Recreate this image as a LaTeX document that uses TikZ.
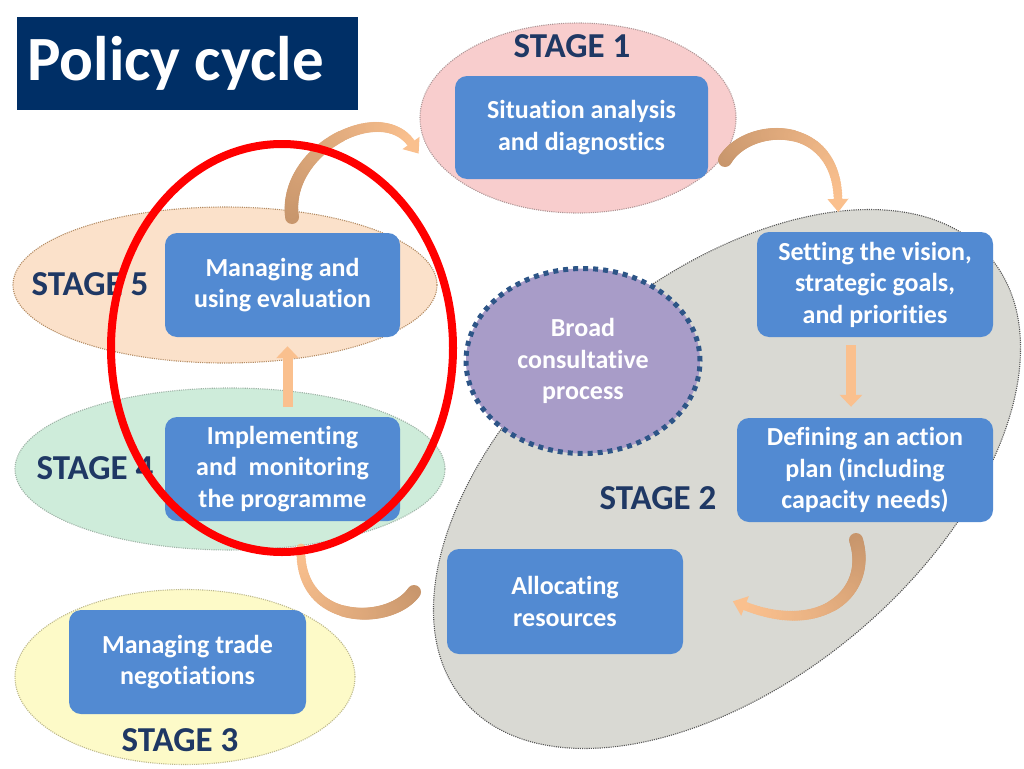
\documentclass[tikz,border=0pt]{standalone}
\usepackage{fontspec}
\setmainfont{Carlito}[Ligatures={CommonOff,RareOff}]
\usetikzlibrary{shapes.geometric,arrows.meta,calc}
\definecolor{titlebg}{RGB}{0,47,102}
\definecolor{stagecol}{RGB}{31,56,100}
\definecolor{boxblue}{RGB}{82,138,210}
\definecolor{pinkfill}{RGB}{248,205,205}
\definecolor{peachfill}{RGB}{251,225,202}
\definecolor{greenfill}{RGB}{206,236,218}
\definecolor{yellowfill}{RGB}{253,250,200}
\definecolor{grayfill}{RGB}{217,217,211}
\definecolor{purplefill}{RGB}{168,156,200}
\definecolor{dashcol}{RGB}{45,85,135}
\definecolor{arD}{RGB}{200,150,108}
\definecolor{arL}{RGB}{250,192,142}
\definecolor{brd1}{RGB}{175,150,150}
\definecolor{brd2}{RGB}{85,85,85}
\definecolor{brd5}{RGB}{180,140,100}
\definecolor{brd4}{RGB}{160,180,168}
\definecolor{brd3}{RGB}{190,185,140}

\tikzset{
  region/.style={ellipse, inner sep=0pt, line width=1.1pt, dash pattern=on 1.1pt off 1.1pt},
  stepbox/.style={rounded corners=12pt, fill=boxblue, text=white, align=center, inner sep=0pt,
    font=\fontsize{26}{31.5}\selectfont\bfseries},
  stagelbl/.style={text=stagecol, font=\fontsize{35}{40}\selectfont\bfseries, inner sep=0pt},
  blockarrow/.style={draw=arL, line width=10pt, -{Triangle[width=22pt,length=12pt]}},
}

\newcommand\ribbonpath[4]{%
  \foreach \rbi in {0,...,80}{%
    \pgfmathsetmacro\rbt{\rbi/80}%
    \pgfmathtruncatemacro\rbpc{100*\rbi/80}%
    \pgfmathsetmacro\rbr{7-2.5*\rbi/80}%
    \colorlet{rbc}{arL!\rbpc!arD}%
    \path #1 .. controls #2 and #3 .. #4 coordinate[pos=\rbt] (rbp);%
    \fill[rbc] (rbp) circle[radius=\rbr];%
  }%
}
\newcommand\ribbonhead[2]{%
  \fill[arL] ($#1!-13pt!#2$) -- ($#1!10.5pt!90:#2$) -- ($#1!10.5pt!-90:#2$) -- cycle;%
}

\begin{document}
\begin{tikzpicture}[x=1pt,y=-1pt]
\useasboundingbox (0,0) rectangle (1024,768);
\fill[white] (0,0) rectangle (1024,768);

% stage regions
\node[region, fill=grayfill, draw=brd2, minimum width=688pt, minimum height=402pt, rotate=40] (st2) at (727,479) {};
\node[region, fill=pinkfill, draw=brd1, minimum width=316pt, minimum height=190pt] (st1) at (578,118) {};
\node[region, fill=peachfill, draw=brd5, minimum width=424pt, minimum height=156pt] (st5) at (225,285) {};
\node[region, fill=greenfill, draw=brd4, minimum width=430pt, minimum height=162pt] (st4) at (230,469) {};
\node[region, fill=yellowfill, draw=brd3, minimum width=340pt, minimum height=175pt] (st3) at (185,677) {};

% consultative process
\node[ellipse, fill=purplefill, draw=dashcol, line width=5pt, dash pattern=on 5pt off 5pt,
  minimum width=234pt, minimum height=185pt, inner sep=0pt, align=center, text=white,
  font=\fontsize{26}{31.5}\selectfont\bfseries] (bc) at (583,361) {Broad\\consultative\\process};

% boxes
\node[stepbox, minimum width=253pt, minimum height=103pt] (b1) at (581.5,127.5) {Situation analysis\\and diagnostics};
\node[stepbox, minimum width=236pt, minimum height=105pt] (b2a) at (875,284.5) {Setting the vision,\\strategic goals,\\and priorities};
\node[stepbox, minimum width=256pt, minimum height=104pt] (b2b) at (865,470) {Defining an action\\plan (including\\capacity needs)};
\node[stepbox, minimum width=236pt, minimum height=105pt] (b2c) at (565,601.5) {Allocating\\resources};
\node[stepbox, minimum width=235pt, minimum height=104pt] (b5) at (282.5,285) {Managing and\\using evaluation};
\node[stepbox, minimum width=235pt, minimum height=104pt] (b4) at (282.5,469) {Implementing\\and~ monitoring\\the programme};
\node[stepbox, minimum width=237pt, minimum height=104pt] (b3) at (187.5,662) {Managing trade\\negotiations};

% stage labels
\node[stagelbl] (l1) at (572,46) {STAGE 1};
\node[stagelbl] (l2) at (658,498) {STAGE 2};
\node[stagelbl] (l3) at (180,740) {STAGE 3};
\node[stagelbl] (l4) at (95,468) {STAGE 4};
\node[stagelbl] (l5) at (90,284) {STAGE 5};

% curved arrows
\coordinate (r1a) at (292,217); \coordinate (r1b) at (283,150);
\coordinate (r1c) at (380,100); \coordinate (r1d) at (411,143);
\ribbonpath{(r1a)}{(r1b)}{(r1c)}{(r1d)}
\ribbonhead{(r1d)}{(r1c)}

\coordinate (r2a) at (725,160); \coordinate (r2b) at (748,122);
\coordinate (r2c) at (836,118); \coordinate (r2d) at (838,199);
\ribbonpath{(r2a)}{(r2b)}{(r2c)}{(r2d)}
\ribbonhead{(r2d)}{(r2c)}

\coordinate (r4a) at (856,540); \coordinate (r4b) at (872,592);
\coordinate (r4c) at (822,636); \coordinate (r4d) at (745,606);
\ribbonpath{(r4a)}{(r4b)}{(r4c)}{(r4d)}
\ribbonhead{(r4d)}{(r4c)}

\coordinate (r5a) at (414,592); \coordinate (r5b) at (390,626);
\coordinate (r5c) at (298,626); \coordinate (r5d) at (301,548);
\ribbonpath{(r5a)}{(r5b)}{(r5c)}{(r5d)}

% straight arrows
\coordinate (ax3) at (851,0);
\coordinate (ax6) at (287.5,0);
\draw[blockarrow, shorten <=8pt, shorten >=11pt] (b2a.south -| ax3) -- (b2b.north -| ax3);
\draw[blockarrow, shorten <=10pt, shorten >=9pt] (b4.north -| ax6) -- (b5.south -| ax6);

% highlight
\draw[red, line width=8pt] (282,348) ellipse [x radius=171, y radius=204];

% title
\node[fill=titlebg, minimum width=341pt, minimum height=93pt, inner sep=0pt, anchor=north west] (title) at (17,17) {};
\node[anchor=base west, text=white, font=\fontsize{63}{69}\selectfont\bfseries, inner sep=0pt] (titletxt) at (27,81) {Policy cycle};
\end{tikzpicture}
\end{document}
